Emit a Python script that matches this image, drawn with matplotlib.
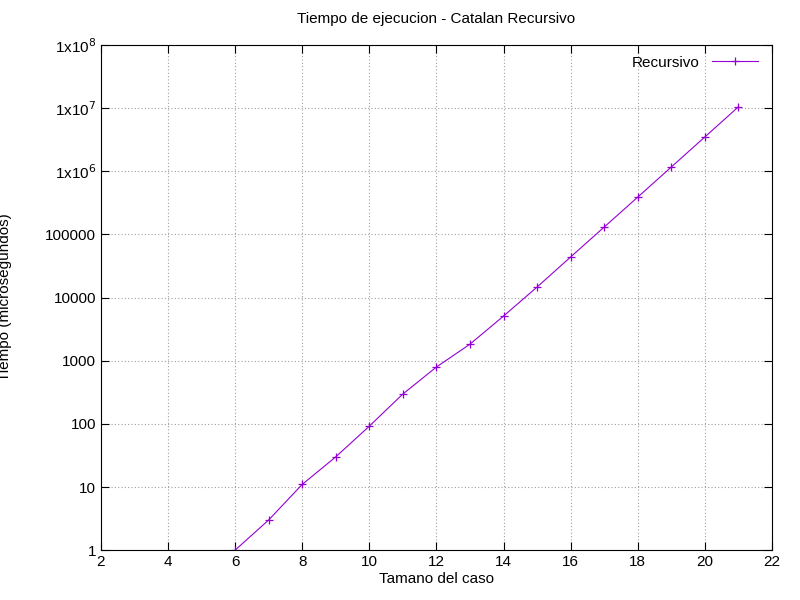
import matplotlib
matplotlib.use("Agg")
import matplotlib.pyplot as plt
from matplotlib.ticker import FixedLocator, FixedFormatter, NullLocator

plt.rcParams['font.family'] = ['Liberation Sans', 'DejaVu Sans']

tamano = [6, 7, 8, 9, 10, 11, 12, 13, 14, 15, 16, 17, 18, 19, 20, 21]
tiempo = [1, 3, 11, 30, 92, 297, 795, 1830, 5100, 14700, 44000,
          131000, 390000, 1170000, 3500000, 10500000]

ytick_vals = [1, 10, 100, 1000, 10000, 100000, 1e6, 1e7, 1e8]
ytick_labels = ['1', '10', '100', '1000', '10000', '100000',
                r'1x10$^{6}$', r'1x10$^{7}$', r'1x10$^{8}$']

fig = plt.figure(figsize=(8, 6), dpi=100)
ax = fig.add_axes([0.126, 0.083, 0.839, 0.842])

ax.plot(tamano, tiempo, color='#9400d3', lw=0.8, marker='+', ms=6,
        mew=0.9, label='Recursivo')

ax.set_yscale('log')
ax.set_xlim(2, 22)
ax.set_ylim(1, 1e8)
ax.set_xticks(range(2, 23, 2))
ax.yaxis.set_major_locator(FixedLocator(ytick_vals))
ax.yaxis.set_major_formatter(FixedFormatter(ytick_labels))
ax.yaxis.set_minor_locator(NullLocator())
ax.tick_params(direction='in', top=True, right=True, labelsize=11, length=6)
ax.grid(True, color='#a0a0a0', ls=(0, (1, 2)), lw=0.8)
for s in ax.spines.values():
    s.set_linewidth(0.8)

ax.set_title('Tiempo de ejecucion - Catalan Recursivo', fontsize=11, pad=16)
ax.set_xlabel('Tamano del caso', fontsize=11, labelpad=2)
ax.set_ylabel('Tiempo (microsegundos)', fontsize=11)
ax.yaxis.set_label_coords(-0.133, 0.5)

ax.legend(loc='upper right', frameon=False, markerfirst=False, fontsize=11,
          handlelength=3, borderaxespad=0.3, bbox_to_anchor=(0.995, 1.0))

fig.savefig('out.png', dpi=100)
